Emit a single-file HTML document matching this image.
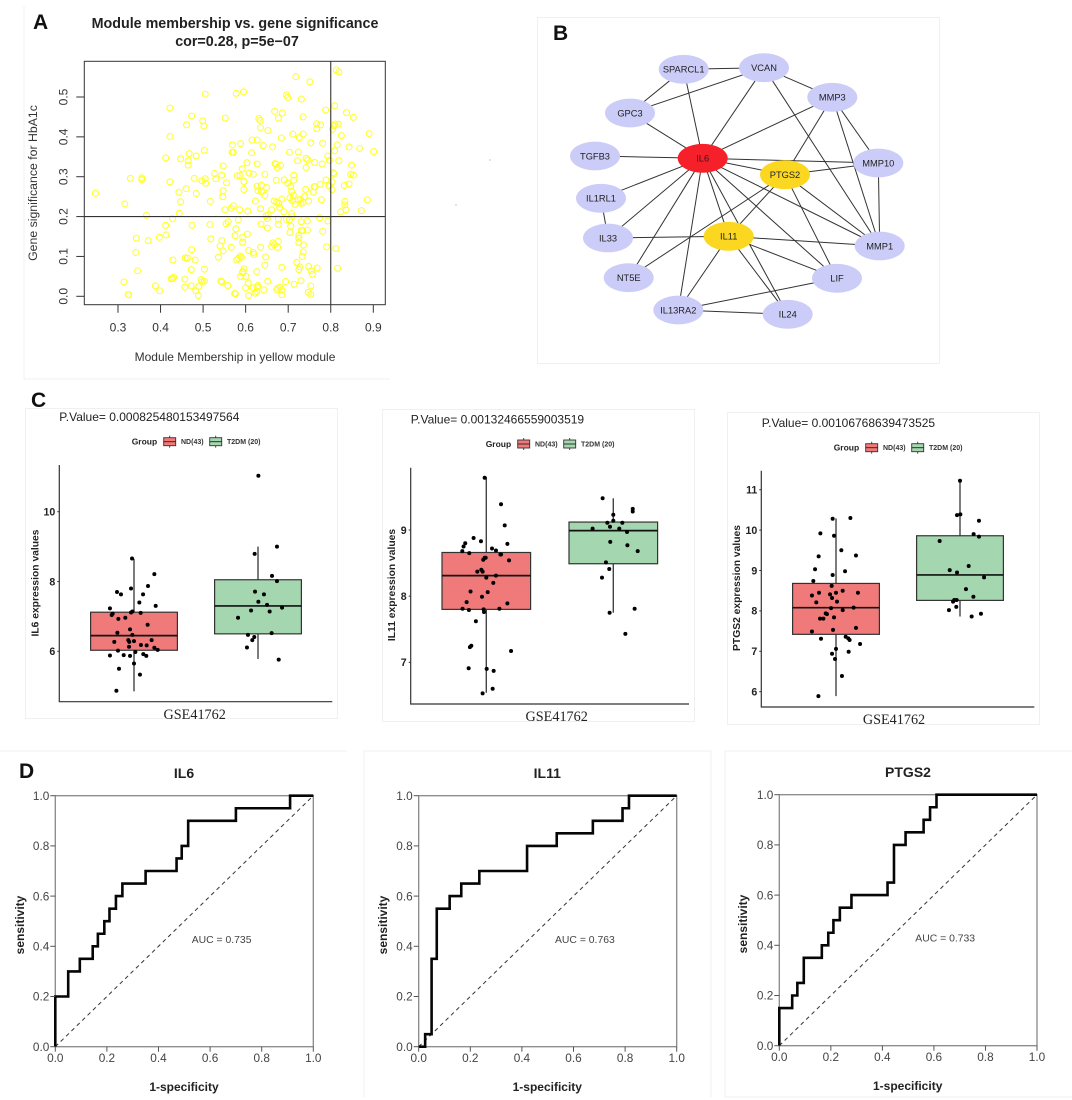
<!DOCTYPE html>
<html lang="en">
<head>
<meta charset="utf-8">
<title>Module membership, network, expression and ROC panels</title>
<style>
html,body{margin:0;padding:0;background:#fff;width:1072px;height:1100px;overflow:hidden}
svg{display:block;font-family:"Liberation Sans",sans-serif;filter:blur(.3px)}
.letter{font-size:21px;font-weight:bold;fill:#111}
.serif{font-family:"Liberation Serif",serif;font-size:14.2px;fill:#222;text-anchor:middle}
.pv{font-size:12px;fill:#222}
.grp{font-size:8.5px;font-weight:bold;fill:#222}
.lg{font-size:7px;font-weight:bold;fill:#333}
.ylab{font-size:10.3px;font-weight:bold;fill:#222;text-anchor:middle}
.rt{font-size:14px;font-weight:bold;fill:#222;text-anchor:middle}
.rx{font-size:12px;font-weight:bold;fill:#222;text-anchor:middle}
.auc{font-size:10.4px;fill:#444}
</style>
</head>
<body>
<svg id="fig" xmlns="http://www.w3.org/2000/svg" width="1072" height="1100" viewBox="0 0 1072 1100">
  <rect x="0" y="0" width="1072" height="1100" fill="#fff"/>
  <g fill="none" stroke="#f0f0f0" stroke-width="1">
    <path d="M24 6V379H390"/>
    <rect x="537.5" y="17.5" width="402" height="346"/>
    <rect x="25.5" y="408.5" width="312" height="310"/>
    <rect x="382.5" y="409.5" width="312" height="312"/>
    <rect x="727.5" y="412.5" width="312" height="312"/>
    <path d="M0 751H347"/>
    <path d="M364 1097V751H711V1097"/>
    <path d="M725 1097V751H1072M725 1097H1072"/>
  </g>

  <text class="letter" x="33" y="29">A</text>
  <text class="letter" x="553" y="40">B</text>
  <text class="letter" x="31" y="407">C</text>
  <text class="letter" x="19" y="778">D</text>

  <g id="scatter"></g>
  <text x="235" y="28" font-size="14.3" font-weight="bold" fill="#222" text-anchor="middle">Module membership vs. gene significance</text>
  <text x="237" y="46" font-size="14.3" font-weight="bold" fill="#222" text-anchor="middle">cor=0.28, p=5e−07</text>
  <text x="235" y="361" font-size="12" fill="#333" text-anchor="middle">Module Membership in yellow module</text>
  <text transform="translate(37 183) rotate(-90)" font-size="12.3" fill="#333" text-anchor="middle">Gene significance for HbA1c</text>

  <g id="network"></g>
  <circle cx="490" cy="160" r="0.6" fill="#999"/>
  <circle cx="456" cy="205" r="0.6" fill="#999"/>

  <text class="pv" x="59.3" y="421">P.Value= 0.000825480153497564</text>
  <text class="pv" x="410.7" y="423.5">P.Value= 0.00132466559003519</text>
  <text class="pv" x="761.7" y="427">P.Value= 0.00106768639473525</text>
  <text class="serif" x="194.7" y="719">GSE41762</text>
  <text class="serif" x="556.7" y="721">GSE41762</text>
  <text class="serif" x="894" y="724">GSE41762</text>
  <text class="ylab" transform="translate(38.5 583) rotate(-90)">IL6 expression values</text>
  <text class="ylab" transform="translate(395 585) rotate(-90)">IL11 expression values</text>
  <text class="ylab" transform="translate(740 588) rotate(-90)">PTGS2 expression values</text>
  <g id="boxes"></g>

  <text class="rt" x="184" y="778">IL6</text>
  <text class="rt" x="547.3" y="778">IL11</text>
  <text class="rt" x="908" y="777">PTGS2</text>
  <text class="rx" x="184" y="1091">1-specificity</text>
  <text class="rx" x="547.3" y="1091">1-specificity</text>
  <text class="rx" x="907.7" y="1090">1-specificity</text>
  <text class="rx" transform="translate(24 925) rotate(-90)">sensitivity</text>
  <text class="rx" transform="translate(387 925) rotate(-90)">sensitivity</text>
  <text class="rx" transform="translate(747 924) rotate(-90)">sensitivity</text>
  <text class="auc" x="191.7" y="943">AUC = 0.735</text>
  <text class="auc" x="555" y="943">AUC = 0.763</text>
  <text class="auc" x="915.3" y="941.5">AUC = 0.733</text>
  <g id="rocs"></g>
</svg>

<script>
// ---------- Panel A data ----------
const scatterXTicks = [0.3,0.4,0.5,0.6,0.7,0.8,0.9];
const scatterYTicks = [0,0.1,0.2,0.3,0.4,0.5];
const scatterYTickLabels = ['0.0','0.1','0.2','0.3','0.4','0.5'];
const scatterCutX = 0.8;
const scatterCutY = 0.2;
const scatterPoints = [
[.247,.258],[.316,.232],[.329,.296],[.356,.297],[.356,.293],[.367,.203],[.343,.146],[.371,.14],[.342,.11],[.346,.064],[.314,.036],[.324,.004],[.325,.004],[.388,.026],[.398,.014],[.397,.148],[.413,.154],[.412,.178],[.412,.347],[.422,.287],[.422,.401],[.422,.472],[.428,.195],[.444,.208],[.447,.237],[.443,.261],[.447,.345],[.429,.091],[.425,.044],[.428,.045],[.431,.048],[.461,.43],[.473,.452],[.467,.358],[.465,.34],[.465,.329],[.479,.296],[.484,.352],[.484,.258],[.46,.27],[.474,.178],[.473,.117],[.458,.096],[.463,.096],[.472,.067],[.481,.091],[.457,.043],[.457,.023],[.472,.026],[.483,.014],[.49,.025],[.489,.002],[.495,.042],[.497,.036],[.503,.038],[.503,.068],[.499,.44],[.502,.427],[.505,.507],[.503,.366],[.497,.29],[.505,.295],[.506,.284],[.517,.238],[.516,.18],[.518,.144],[.536,.098],[.54,.126],[.544,.14],[.547,.114],[.542,.038],[.544,.036],[.558,.027],
[.552,.447],[.547,.327],[.527,.308],[.53,.295],[.544,.304],[.555,.285],[.547,.265],[.546,.25],[.551,.217],[.571,.227],[.566,.221],[.554,.182],[.559,.187],[.583,.192],[.577,.169],[.575,.152],[.566,.123],[.593,.148],[.593,.136],[.604,.156],[.579,.091],[.583,.095],[.587,.101],[.59,.098],[.607,.115],[.618,.11],[.619,.105],[.635,.123],[.647,.099],[.645,.078],[.593,.062],[.596,.069],[.593,.06],[.588,.05],[.601,.05],[.606,.033],[.6,.021],[.618,.021],[.629,.027],[.627,.023],[.626,.012],[.622,.008],[.607,.002],[.574,.007],[.576,.006],[.643,.016],[.652,.038],[.626,.062],
[.661,.125],[.664,.134],[.668,.129],[.677,.138],[.675,.123],[.685,.073],[.673,.016],[.675,.02],[.681,.023],[.685,.016],[.685,.004],[.694,.037],[.714,.03],[.73,.039],[.753,.026],[.747,.01],[.753,.005],[.72,.085],[.727,.074],[.725,.067],[.748,.075],[.754,.064],[.757,.055],[.768,.071],[.733,.1],[.735,.111],[.736,.129],[.725,.135],[.725,.146],[.725,.153],[.731,.165],[.734,.165],[.745,.166],[.704,.16],[.706,.176],[.73,.187],[.745,.189],[.696,.193],[.703,.192],[.709,.2],[.708,.207],[.677,.194],[.677,.18],[.636,.181],[.651,.171],[.651,.195],[.653,.204],[.648,.202],[.635,.22],[.661,.217],[.68,.223],[.69,.212],[.586,.217],[.605,.214],
[.623,.239],[.645,.253],[.667,.239],[.673,.236],[.678,.233],[.685,.244],[.627,.276],[.629,.265],[.637,.262],[.637,.279],[.649,.273],[.596,.268],[.596,.288],[.587,.303],[.58,.302],[.592,.32],[.603,.335],[.608,.309],[.618,.306],[.645,.306],[.627,.332],[.672,.291],[.691,.292],[.699,.284],[.706,.276],[.704,.247],[.708,.263],[.712,.254],[.71,.239],[.716,.231],[.724,.242],[.729,.243],[.73,.233],[.735,.235],[.738,.25],[.748,.239],[.741,.268],[.759,.261],[.763,.275],[.761,.275],[.778,.242],[.775,.281],[.789,.292],[.796,.277],[.803,.268],[.803,.287],[.793,.189],[.774,.197],[.781,.163],[.79,.124],[.812,.12],[.816,.07],
[.713,.304],[.713,.291],[.722,.34],[.724,.362],[.703,.361],[.742,.346],[.746,.342],[.742,.323],[.762,.336],[.753,.385],[.781,.384],[.78,.332],[.793,.352],[.797,.341],[.669,.333],[.671,.331],[.674,.323],[.682,.328],[.641,.378],[.663,.375],[.684,.397],[.615,.392],[.627,.392],[.614,.36],[.569,.38],[.588,.383],[.568,.361],[.571,.361],[.631,.446],[.634,.441],[.635,.423],[.652,.416],[.668,.464],[.677,.447],[.686,.46],[.696,.505],[.699,.499],[.731,.495],[.735,.45],[.711,.407],[.726,.398],[.735,.407],[.767,.433],[.767,.421],[.776,.43],[.788,.467],[.804,.419],[.809,.478],[.81,.432],[.808,.428],[.818,.432],[.578,.509],[.595,.513],[.718,.551],[.751,.538],[.813,.568],[.819,.563],
[.815,.38],[.809,.365],[.819,.34],[.825,.403],[.837,.461],[.853,.449],[.843,.375],[.868,.371],[.89,.408],[.901,.363],[.849,.329],[.847,.306],[.853,.304],[.843,.282],[.832,.278],[.806,.31],[.808,.307],[.833,.238],[.833,.229],[.823,.212],[.836,.217],[.872,.215],[.886,.242]
];

// ---------- Panel B data ----------
const networkNodes = ['SPARCL1','VCAN','MMP3','GPC3','TGFB3','IL6','PTGS2','MMP10','IL1RL1','IL33','IL11','MMP1','NT5E','LIF','IL13RA2','IL24'];
const networkHub = ['IL6'];
const networkKey = ['PTGS2','IL11'];
const networkEdges = [
['SPARCL1','VCAN'],['SPARCL1','GPC3'],['SPARCL1','IL6'],['VCAN','GPC3'],['VCAN','IL6'],['VCAN','MMP3'],['VCAN','MMP1'],['MMP3','IL6'],['MMP3','PTGS2'],['MMP3','MMP10'],['MMP3','MMP1'],['GPC3','IL6'],['TGFB3','IL6'],['IL6','MMP10'],['IL6','PTGS2'],['IL6','IL1RL1'],['IL6','IL33'],['IL6','NT5E'],['IL6','IL13RA2'],['IL6','IL11'],['IL6','IL24'],['IL6','LIF'],['IL6','MMP1'],['PTGS2','MMP10'],['PTGS2','MMP1'],['PTGS2','LIF'],['PTGS2','IL11'],['PTGS2','NT5E'],['MMP10','MMP1'],['IL1RL1','IL33'],['IL33','IL11'],['IL11','MMP1'],['IL11','LIF'],['IL11','IL24'],['IL11','IL13RA2'],['LIF','IL13RA2'],['IL13RA2','IL24']
];

// ---------- Panel C data: [group position with jitter, expression] ----------
const groupNames = ['ND(43)','T2DM (20)'];
const il6Ticks = [6,8,10];
const il6NdBox = [4.85,6.03,6.45,7.12,8.65];
const il6T2dmBox = [5.78,6.5,7.3,8.05,9.0];
const il6NdPoints = [[.858,4.87],[1.048,5.33],[.879,5.5],[1,5.65],[.806,5.88],[.917,5.89],[.968,5.87],[1.099,5.87],[1.075,5.92],[1.011,5.98],[.871,6.02],[1.191,6.04],[1.164,6.1],[.96,6.13],[1.102,6.17],[1.056,6.18],[1.142,6.32],[1,6.29],[.954,6.32],[.962,6.27],[.841,6.27],[.987,6.47],[.866,6.53],[.968,6.63],[1.11,6.76],[.874,6.93],[.93,6.96],[.82,7.04],[.828,7.08],[.976,7.11],[.987,7.14],[1.054,7.1],[.806,7.23],[1.175,7.3],[1.043,7.4],[.863,7.7],[.895,7.63],[1.073,7.63],[.976,7.8],[1.113,7.87],[1.164,8.21],[.984,8.66]];
const il6T2dmPoints = [[2.003,11.03],[2.153,9],[1.973,8.79],[2.113,8.16],[2.153,8.01],[1.976,7.71],[2.048,7.63],[2.003,7.42],[2.073,7.33],[2.194,7.25],[1.944,7.17],[2.094,7.14],[1.839,6.96],[2.11,6.52],[1.919,6.47],[1.97,6.41],[1.954,6.32],[1.911,6.11],[2.167,5.76]];
const il11Ticks = [7,8,9];
const il11NdBox = [6.54,7.8,8.31,8.66,9.8];
const il11T2dmBox = [7.75,8.49,8.99,9.12,9.48];
const il11NdPoints = [[.971,6.53],[1.05,6.6],[.861,6.91],[1.003,6.9],[1.058,6.87],[1.195,7.17],[.871,7.23],[.882,7.25],[.918,7.62],[.982,7.76],[.979,7.8],[.813,7.81],[.863,7.79],[1.103,7.81],[1.166,7.89],[.845,7.91],[.966,7.99],[1.011,8.06],[.876,8.07],[1.055,8.2],[1,8.28],[1.076,8.31],[.929,8.37],[.961,8.4],[.971,8.37],[1.179,8.54],[.976,8.55],[.987,8.58],[.995,8.58],[.866,8.65],[1.111,8.63],[1.116,8.63],[.811,8.68],[1.045,8.72],[1.076,8.69],[.821,8.75],[.834,8.8],[1.166,8.79],[.9,8.88],[.958,8.83],[1.145,9.07],[1.116,9.39],[.987,9.79]];
const il11T2dmPoints = [[1.916,9.48],[2.153,9.32],[2.153,9.28],[2,9.23],[1.953,9.11],[2.071,9.11],[2,9.14],[1.974,9.05],[1.837,9.02],[2.047,9.02],[2.108,8.97],[1.976,8.82],[2.111,8.77],[2.192,8.68],[1.942,8.51],[1.968,8.41],[1.911,8.28],[2.168,7.81],[1.971,7.75],[2.095,7.43]];
const ptgs2Ticks = [6,7,8,9,10,11];
const ptgs2NdBox = [5.89,7.42,8.08,8.68,10.29];
const ptgs2T2dmBox = [7.86,8.26,8.89,9.86,11.22];
const ptgs2NdPoints = [[.858,5.89],[1.048,6.39],[.992,6.81],[.968,6.94],[1,7.06],[1.102,6.99],[1.194,7.18],[.879,7.31],[1.11,7.28],[1.099,7.32],[1.078,7.36],[.806,7.49],[.976,7.53],[1.161,7.58],[.984,7.84],[.898,7.81],[.871,7.81],[.917,7.94],[.927,7.92],[1.054,8.02],[1.142,8.08],[.96,8.07],[.841,8.21],[1.008,8.23],[.968,8.32],[.952,8.41],[.806,8.38],[.863,8.45],[1,8.45],[1.054,8.5],[1.177,8.45],[.817,8.74],[.965,8.62],[.973,8.89],[1.073,8.98],[.831,9.03],[.86,9.35],[1.043,9.5],[1.161,9.37],[.984,9.86],[.874,9.92],[.973,10.28],[1.116,10.3]];
const ptgs2T2dmPoints = [[2,11.22],[1.976,10.37],[2.003,10.39],[2.153,10.23],[2.11,9.9],[2.153,9.84],[1.836,9.73],[2.07,9.11],[1.917,9.01],[1.976,8.95],[2.194,8.83],[2.048,8.54],[2.108,8.35],[1.973,8.27],[1.954,8.27],[1.944,8.23],[1.97,8.1],[1.911,8.02],[2.169,7.93],[2.094,7.86]];

// ---------- Panel D data ----------
const rocTicks = [0,0.2,0.4,0.6,0.8,1];
const il6Fpr = [0,.05,.095,.145,.165,.19,.21,.235,.26,.35,.47,.49,.515,.70,.91,1];
const il6Tpr = [.2,.3,.35,.4,.45,.5,.55,.6,.65,.7,.75,.8,.9,.95,1,1];
const il11Fpr = [0,.025,.05,.07,.12,.165,.235,.42,.535,.675,.79,.815,1];
const il11Tpr = [0,.05,.35,.55,.6,.65,.7,.8,.85,.9,.95,1,1];
const ptgs2Fpr = [0,.05,.07,.095,.165,.19,.21,.235,.28,.42,.445,.49,.56,.585,.61,1];
const ptgs2Tpr = [.15,.2,.25,.35,.4,.45,.5,.55,.6,.65,.8,.85,.9,.95,1,1];

// ---------- helpers ----------
const NS = 'http://www.w3.org/2000/svg';
function make(tag, parent, attrs, text){
  const e = document.createElementNS(NS, tag);
  for (const k in attrs) e.setAttribute(k, attrs[k]);
  if (text !== undefined) e.textContent = text;
  parent.appendChild(e);
  return e;
}
function linear(d0, d1, r0, r1){ return v => r0 + (v - d0) * (r1 - r0) / (d1 - d0); }

// ---------- Panel A ----------
(function(){
  const g = document.getElementById('scatter');
  const L = 84.3, R = 385.3, T = 61.3, B = 304.7;
  const x = linear(0.3, 0.9, 118, 373.3);
  const y = linear(0, 0.5, 296.3, 97);
  scatterPoints.forEach(p => {
    const c = make('circle', g, {cx:x(p[0]), cy:y(p[1]), r:3, fill:'none', stroke:'#ffff22', 'stroke-width':1});
    
    
  });
  const frame = make('rect', g, {x:L, y:T, width:R-L, height:B-T, fill:'none', stroke:'#333', 'stroke-width':1});
  
  
  const vCut = make('line', g, {x1:x(scatterCutX), x2:x(scatterCutX), y1:T, y2:B, stroke:'#333', 'stroke-width':1.1});
  
  
  const hCut = make('line', g, {x1:L, x2:R, y1:y(scatterCutY), y2:y(scatterCutY), stroke:'#333', 'stroke-width':1.1});
  
  
  scatterXTicks.forEach(t => {
    const k = make('line', g, {x1:x(t), x2:x(t), y1:B, y2:B+8, stroke:'#333', 'stroke-width':1});
    
    
    const lab = make('text', g, {x:x(t), y:331.5, 'font-size':12, fill:'#333', 'text-anchor':'middle'}, t.toFixed(1));
    
    
  });
  scatterYTicks.forEach((t,i) => {
    const k = make('line', g, {x1:L-8, x2:L, y1:y(t), y2:y(t), stroke:'#333', 'stroke-width':1});
    
    
    const lab = make('text', g, {transform:'translate(67.5 '+y(t)+') rotate(-90)', 'font-size':12, fill:'#333', 'text-anchor':'middle'}, scatterYTickLabels[i]);
    
    
  });
})();

// ---------- Panel B ----------
(function(){
  const g = document.getElementById('network');
  const layout = {SPARCL1:[683.7,69.3],VCAN:[764,67.7],MMP3:[832.3,97.3],GPC3:[630,113],TGFB3:[595,156],IL6:[702.7,158.3],PTGS2:[785,174.7],MMP10:[878.3,163],IL1RL1:[601,198.3],IL33:[608,238],IL11:[728.7,236.3],MMP1:[879.7,246],NT5E:[628.7,277.7],LIF:[837,278.3],IL13RA2:[678.3,310],IL24:[787.7,314.3]};
  networkEdges.forEach(e => {
    const a = layout[e[0]], b = layout[e[1]];
    const l = make('line', g, {x1:a[0], y1:a[1], x2:b[0], y2:b[1], stroke:'#333', 'stroke-width':1});
    
    
  });
  networkNodes.forEach(n => {
    const p = layout[n];
    const fill = networkHub.includes(n) ? '#f5202a' : networkKey.includes(n) ? '#fcd722' : '#ccccf8';
    const ell = make('ellipse', g, {cx:p[0], cy:p[1], rx:25, ry:14.4, fill:fill});
    
    
    const t = make('text', g, {x:p[0], y:p[1]+3.4, 'font-size':9.3, fill:'#222', 'text-anchor':'middle'}, n);
    
    
  });
})();

// ---------- Panel C ----------
function drawBoxPanel(o){
  const g = document.getElementById('boxes');
  const x = linear(1, 2, o.c1, o.c2);
  const y = linear(o.d0, o.d1, o.r0, o.r1);
  [[o.ndBox, 1, '#f07a7a', o.ndPts],[o.t2Box, 2, '#a4d6b0', o.t2Pts]].forEach(s => {
    const b = s[0], cx = x(s[1]);
    const w = make('line', g, {x1:cx, x2:cx, y1:y(b[0]), y2:y(b[4]), stroke:'#444', 'stroke-width':1.4});
    
    
    const r = make('rect', g, {x:cx-o.hw, y:y(b[3]), width:o.hw*2, height:y(b[1])-y(b[3]), fill:s[2], stroke:'#333', 'stroke-width':1.2});
    
    
    const m = make('line', g, {x1:cx-o.hw, x2:cx+o.hw, y1:y(b[2]), y2:y(b[2]), stroke:'#111', 'stroke-width':1.7});
    
    
    s[3].forEach(p => {
      const c = make('circle', g, {cx:x(p[0]), cy:y(p[1]), r:2, fill:'#000'});
      
      
    });
  });
  const axes = make('path', g, {d:'M'+o.L+' '+o.T+'V'+o.B+'H'+o.R, fill:'none', stroke:'#333', 'stroke-width':1.2});
  
  
  o.ticks.forEach(t => {
    const k = make('line', g, {x1:o.L-2, x2:o.L, y1:y(t), y2:y(t), stroke:'#333', 'stroke-width':1});
    
    
    const lab = make('text', g, {x:o.L-4, y:y(t)+3.8, 'font-size':10.6, 'font-weight':'bold', fill:'#222', 'text-anchor':'end'}, String(t));
    
    
  });
  const grp = make('text', g, {x:o.lx, y:o.ly+3, class:'grp'}, 'Group');
  
  
  [[32,'#f07a7a',groupNames[0],49.3],[78,'#a4d6b0',groupNames[1],95.3]].forEach(s => {
    const kx = o.lx + s[0];
    const st = make('line', g, {x1:kx+6, x2:kx+6, y1:o.ly-6, y2:o.ly+6, stroke:'#333', 'stroke-width':0.9});
    
    
    const kr = make('rect', g, {x:kx, y:o.ly-4, width:12, height:8, fill:s[1], stroke:'#333', 'stroke-width':0.9});
    
    
    const kl = make('line', g, {x1:kx, x2:kx+12, y1:o.ly, y2:o.ly, stroke:'#222', 'stroke-width':0.9});
    
    
    const tx = make('text', g, {x:o.lx+s[3], y:o.ly+2.5, class:'lg'}, s[2]);
    
    
  });
}
drawBoxPanel({L:59.3,R:332.3,T:465,B:701.7,c1:134,c2:258,hw:43.4,d0:6,d1:10,r0:651.3,r1:511.7,ticks:il6Ticks,ndBox:il6NdBox,t2Box:il6T2dmBox,ndPts:il6NdPoints,t2Pts:il6T2dmPoints,lx:131.7,ly:441.7});
drawBoxPanel({L:410.7,R:689,T:467.7,B:704,c1:486.3,c2:613.3,hw:44.3,d0:7,d1:9,r0:662.3,r1:530,ticks:il11Ticks,ndBox:il11NdBox,t2Box:il11T2dmBox,ndPts:il11NdPoints,t2Pts:il11T2dmPoints,lx:485.7,ly:444});
drawBoxPanel({L:761.3,R:1034.3,T:470.7,B:707,c1:836,c2:960,hw:43.4,d0:6,d1:11,r0:691.7,r1:489.7,ticks:ptgs2Ticks,ndBox:ptgs2NdBox,t2Box:ptgs2T2dmBox,ndPts:ptgs2NdPoints,t2Pts:ptgs2T2dmPoints,lx:833.7,ly:447.7});

// ---------- Panel D ----------
function drawRoc(L, R, T, B, fpr, tpr){
  const g = document.getElementById('rocs');
  const x = linear(0, 1, L, R);
  const y = linear(0, 1, B, T);
  const frame = make('rect', g, {x:L, y:T, width:R-L, height:B-T, fill:'none', stroke:'#888', 'stroke-width':1.3});
  
  
  const diag = make('line', g, {x1:x(0), y1:y(0), x2:x(1), y2:y(1), stroke:'#333', 'stroke-width':1, 'stroke-dasharray':'4 3.5'});
  
  
  let d = 'M'+x(0)+' '+y(0), prev = 0;
  fpr.forEach((f,i) => {
    d += 'L'+x(f)+' '+y(prev)+'L'+x(f)+' '+y(tpr[i]);
    prev = tpr[i];
  });
  const curve = make('path', g, {d:d, fill:'none', stroke:'#050505', 'stroke-width':2.6, 'stroke-linejoin':'miter'});
  
  
  rocTicks.forEach(t => {
    const kx = make('line', g, {x1:x(t), x2:x(t), y1:B, y2:B+5, stroke:'#555', 'stroke-width':1});
    
    
    const lx = make('text', g, {x:x(t), y:B+15.5, 'font-size':11.8, fill:'#444', 'text-anchor':'middle'}, t.toFixed(1));
    
    
    const ky = make('line', g, {x1:L-5, x2:L, y1:y(t), y2:y(t), stroke:'#555', 'stroke-width':1});
    
    
    const ly = make('text', g, {x:L-6, y:y(t)+4.2, 'font-size':11.8, fill:'#444', 'text-anchor':'end'}, t.toFixed(1));
    
    
  });
}
drawRoc(55.3, 313.3, 795.7, 1046.7, il6Fpr, il6Tpr);
drawRoc(418.7, 676.7, 795.7, 1046.7, il11Fpr, il11Tpr);
drawRoc(779.3, 1037, 794.7, 1045.7, ptgs2Fpr, ptgs2Tpr);
</script>
</body>
</html>
